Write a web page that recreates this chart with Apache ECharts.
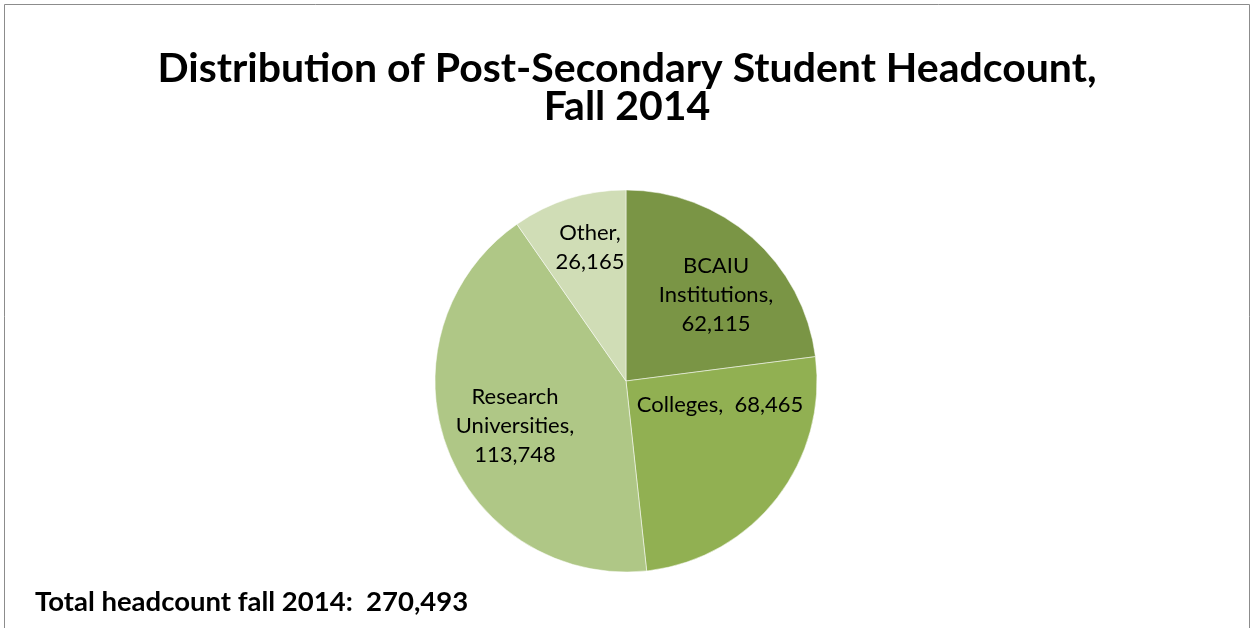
<!DOCTYPE html>
<html>
<head>
<meta charset="utf-8">
<script src="https://cdn.jsdelivr.net/npm/echarts@6/dist/echarts.min.js"></script>
<style>
  html, body { margin: 0; padding: 0; background: #fff; }
  #chart { width: 1254px; height: 628px; }
</style>
</head>
<body>
<div id="chart"></div>
<script>
const categories = ['BCAIU Institutions', 'Colleges', 'Research Universities', 'Other'];
const headcounts = [62115, 68465, 113748, 26165];
const labelTexts = ['BCAIU\nInstitutions,\n62,115', 'Colleges,  68,465', 'Research\nUniversities,\n113,748', 'Other,\n26,165'];
const totalLabel = 'Total headcount fall 2014:  270,493';

const sliceColors = ['#7A9545', '#91B052', '#AFC786', '#D0DDB6'];
const labelSpots = [[716, 295], [720, 405], [515, 426], [590, 247]];

const chart = echarts.init(document.getElementById('chart'));

chart.setOption({
  backgroundColor: '#fff',
  animation: false,
  title: {
    text: 'Distribution of Post-Secondary Student Headcount,\nFall 2014',
    left: 'center',
    top: 45,
    textStyle: { fontFamily: 'Lato', fontWeight: 'bold', fontSize: 41, lineHeight: 38, color: '#000' }
  },
  graphic: [
    { type: 'rect', shape: { x: 4.5, y: 4.5, width: 1245, height: 640 }, style: { fill: 'none', stroke: '#8c8c8c', lineWidth: 1 }, silent: true },
    { type: 'text', left: 35, top: 588, style: { text: totalLabel, fontFamily: 'Lato', fontWeight: 'bold', fontSize: 27.5, fill: '#000' } }
  ],
  series: [{
    type: 'pie',
    center: [626, 381],
    radius: [0, 191],
    startAngle: 90,
    clockwise: true,
    data: categories.map((name, i) => ({
      name,
      value: headcounts[i],
      itemStyle: { color: sliceColors[i] },
      label: { formatter: labelTexts[i] }
    })),
    itemStyle: { borderColor: 'rgba(255,255,255,0.5)', borderWidth: 1 },
    label: {
      position: 'inside',
      fontFamily: 'Lato',
      fontSize: 22,
      lineHeight: 29,
      color: '#000',
      align: 'center'
    },
    labelLine: { show: false },
    labelLayout: (params) => ({
      x: labelSpots[params.dataIndex][0],
      y: labelSpots[params.dataIndex][1],
      align: 'center',
      verticalAlign: 'middle'
    })
  }]
});
</script>
</body>
</html>
